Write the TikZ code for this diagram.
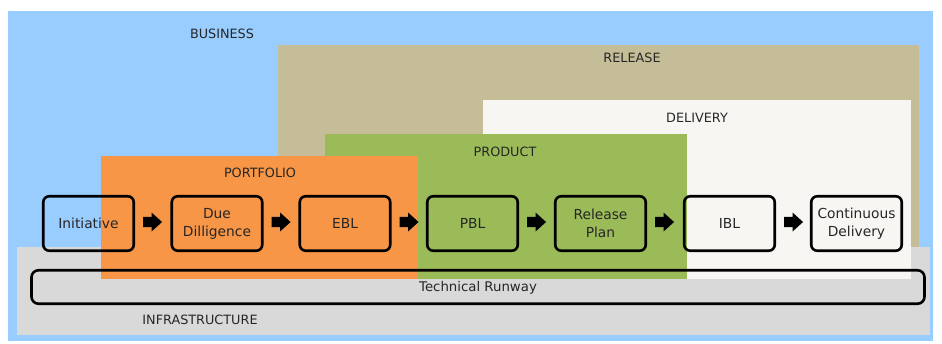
\documentclass[tikz,border=0pt]{standalone}
\usepackage{fontspec}
\setmainfont{DejaVu Sans}
\begin{document}
\begin{tikzpicture}[x=1pt,y=-1pt,
  regionlabel/.style={text=black!85, font=\fontsize{12.8}{14}\selectfont, inner sep=0pt, anchor=center},
  stagebox/.style={draw=black, line width=2.6pt, rounded corners=6pt,
    minimum width=90.5pt, minimum height=54.5pt, inner sep=1pt,
    text=black!85, align=center, font=\fontsize{13.8}{18}\selectfont},
  runway/.style={draw=black, line width=2.6pt, rounded corners=7pt, fill=none,
    minimum width=893pt, minimum height=33.5pt, inner sep=0pt},
  flow/.style={fill=black, draw=none}
]
\definecolor{busblue}{HTML}{99CCFF}
\definecolor{reltan}{HTML}{C4BD97}
\definecolor{infragray}{HTML}{D9D9D9}
\definecolor{delwhite}{HTML}{F7F6F2}
\definecolor{prodgreen}{HTML}{9BBB59}
\definecolor{portorange}{HTML}{F79646}

\useasboundingbox (0,0) rectangle (942,343);
\fill[white] (0,0) rectangle (942,343);

% nested areas, back to front
\fill[busblue]   (8,11)   rectangle (933,341);
\fill[reltan]    (278,45) rectangle (919,260);
\fill[infragray] (17,247) rectangle (930,335);
\fill[delwhite]  (483,100) rectangle (911,279);
\fill[prodgreen] (325,134) rectangle (687,279);
\fill[portorange](101,156) rectangle (418,279);

% area captions
\node[regionlabel] (lbus)   at (222,34)  {BUSINESS};
\node[regionlabel] (lrel)   at (632,58)  {RELEASE};
\node[regionlabel] (ldel)   at (697,118) {DELIVERY};
\node[regionlabel] (lprod)  at (505,152) {PRODUCT};
\node[regionlabel] (lport)  at (260,173) {PORTFOLIO};
\node[regionlabel] (linfra) at (200,320) {INFRASTRUCTURE};

% stages
\node[stagebox] (ini) at (88.5,223.5)  {Initiative};
\node[stagebox] (due) at (217,223.5)   {Due\\Dilligence};
\node[stagebox] (ebl) at (345,223.5)   {EBL};
\node[stagebox] (pbl) at (472.5,223.5) {PBL};
\node[stagebox] (rpl) at (600.5,223.5) {Release\\Plan};
\node[stagebox] (ibl) at (729.5,223.5) {IBL};
\node[stagebox] (cd)  at (856.5,223.5) {Continuous\\Delivery};

% technical runway bar
\node[runway] (tr) at (478,287) {};
\node[text=black!85, font=\fontsize{13.3}{14}\selectfont, inner sep=0pt] (trl) at (478,288) {Technical Runway};

% block arrows between consecutive stages
\foreach \a/\b in {ini/due,due/ebl,ebl/pbl,pbl/rpl,rpl/ibl,ibl/cd}{
  \path (\a.east) ++(8,-1.5) coordinate (s);
  \fill[flow] (s) ++(0,-5.2) -- ++(8.5,0) -- ++(0,-4.3) -- ++(10.5,9.5)
     -- ++(-10.5,9.5) -- ++(0,-4.3) -- ++(-8.5,0) -- cycle;
}
\end{tikzpicture}
\end{document}
